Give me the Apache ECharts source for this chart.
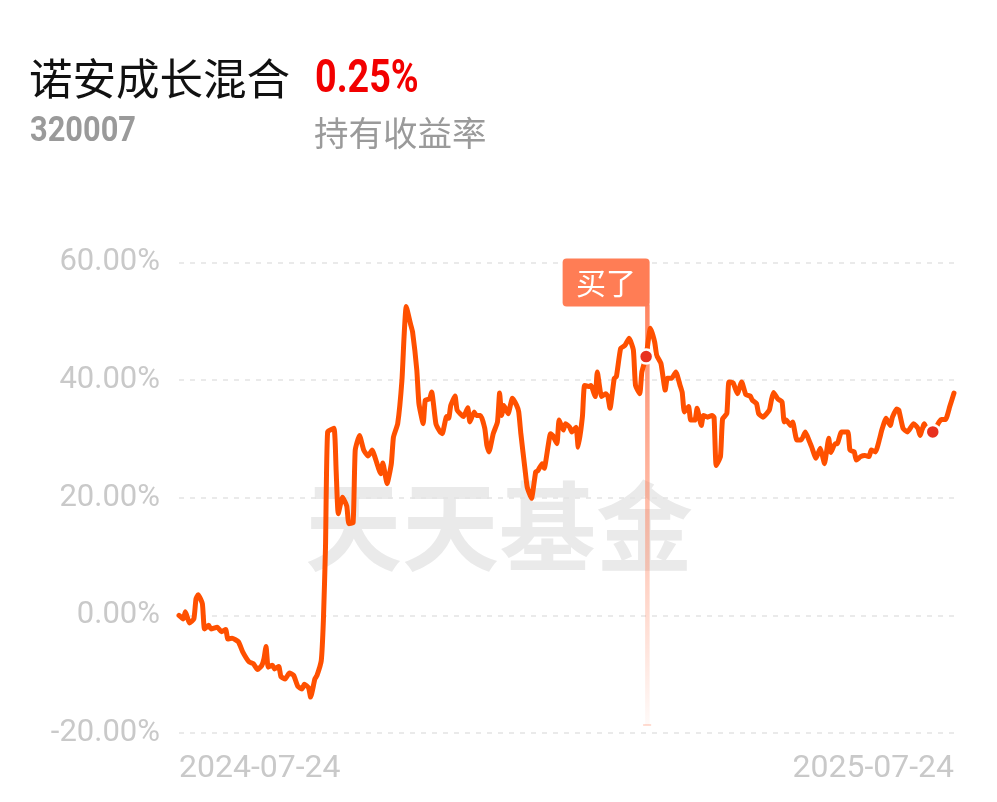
<!DOCTYPE html>
<html>
<head>
<meta charset="utf-8">
<script src="https://cdn.jsdelivr.net/npm/echarts@6/dist/echarts.min.js"></script>
<style>
html,body{margin:0;padding:0;background:#fff;}
#c{width:997px;height:802px;}
</style>
</head>
<body>
<div id="c"></div>
<script>
// ---- data ----
const fundName = '诺安成长混合';
const fundCode = '320007';
const holdReturn = '0.25%';
const holdReturnLabel = '持有收益率';
const watermark = '天天基金';
const xTickLabels = ['2024-07-24', '2025-07-24'];
const yTicks = [-20, 0, 20, 40, 60];
// day offsets from 2024-07-24
const days = [0,2,3,5,7,8,9,11,12,14,15,18,20,22,23,25,28,30,33,35,37,39,40,41,42,44,45,47,48,50,52,54,56,58,59,61,62,64,65,67,68,69,70,73,74,75,77,79,80,82,83,85,87,89,
91,92,95,96,98,100,101,103,105,106,107,109,110,112,113,115,116,118,119,121,123,124,126,127,128,130,131,134,136,137,139,140,142,144,145,146,148,150,151,152,153,155,157,159,160,161,163,164,166,168,169,171,172,175,176,178,179,181,182,184,185,187,188,190,191,193,194,196,197,199,201,202,203,205,206,208,210,212,214,215,217,218,220,
222,224,225,227,229,230,232,234,236,237,238,240,241,243,244,246,247,249,251,252,253,255,256,258,259,261,263,265,267,269,270,272,273,275,278,279,280,282,284,285,286,288,289,291,293,295,297,298,300,302,303,304,306,307,309,310,312,315,316,318,319,321,323,325,326,328,330,331,333,335,336,338,339,341,343,344,346,348,349,351,352,355,358,359,361,363,365];
// holding return (%)
const returns = [0.0,-0.6,0.6,-1.3,-0.6,2.8,3.5,2.0,-2.3,-1.7,-2.3,-2.0,-2.8,-2.4,-4.0,-3.9,-4.5,-6.2,-7.9,-8.2,-9.2,-8.5,-7.4,-5.3,-8.8,-8.5,-9.1,-8.7,-10.4,-10.8,-9.8,-10.2,-12.1,-12.5,-11.7,-12.3,-13.9,-10.8,-10.2,-7.7,-0.9,11.6,31.2,31.8,24.7,17.3,20.1,18.6,15.6,15.8,28.1,30.6,28.1,27.1,
28.1,27.2,24.1,25.9,22.4,25.8,30.3,32.6,40.0,47.4,52.5,49.6,48.2,41.7,36.0,32.6,36.6,36.8,38.0,32.6,31.2,30.9,33.8,33.5,35.7,37.3,34.9,33.8,35.3,32.9,34.6,34.0,34.0,31.8,28.9,27.8,30.9,32.9,37.8,34.0,35.7,34.3,36.9,35.7,34.6,30.9,24.7,21.8,19.9,24.4,24.6,25.8,25.0,30.9,30.6,29.2,33.2,31.5,32.6,32.0,31.2,32.0,28.6,33.8,39.1,38.9,39.1,37.2,41.4,37.2,37.7,37.2,35.2,40.3,40.6,45.4,45.9,47.1,45.1,39.1,37.7,41.4,44.0,
48.8,46.5,44.2,42.8,38.3,40.3,40.3,41.4,39.1,37.9,34.6,35.5,33.2,33.2,35.2,32.3,34.0,33.7,34.0,33.7,25.5,27.0,33.4,34.3,39.7,39.5,37.7,39.7,37.5,37.3,36.6,36.0,34.3,33.7,34.9,36.6,37.9,36.8,36.3,32.9,33.2,32.3,32.9,29.8,29.8,31.2,29.5,28.6,26.7,28.4,27.2,25.8,30.1,27.7,29.2,29.2,31.2,31.2,28.1,27.8,26.4,27.0,27.2,27.0,28.1,27.8,30.1,31.5,33.5,32.3,33.7,35.1,34.9,31.8,31.2,31.6,32.6,31.8,30.6,32.6,31.8,31.2,32.9,33.3,33.3,35.5,37.8];
const buyDay = 220;
const buyLabel = '买了';
const markDays = [220, 355];

// ---- build ----
const n = Math.min(days.length, returns.length);
const seriesData = [];
for (let i = 0; i < n; i++) seriesData.push([days[i], returns[i]]);
const valueAt = d => { const i = days.indexOf(d); return returns[i]; };

const chart = echarts.init(document.getElementById('c'), null, {renderer: 'canvas'});
const gridCol = '#e3e3e3';
const labelCol = '#c9c9c9';
const option = {
  animation: false,
  backgroundColor: '#fff',
  grid: {left: 179, right: 43, top: 262.5, bottom: 69, containLabel: false},
  xAxis: {
    type: 'value', min: days[0], max: days[days.length - 1], interval: 365,
    axisLine: {show: false}, axisTick: {show: false}, splitLine: {show: false},
    axisLabel: {
      color: labelCol, fontSize: 32, fontFamily: 'Roboto', margin: 20,
      alignMinLabel: 'left', alignMaxLabel: 'right',
      formatter: v => (v === days[0] ? xTickLabels[0] : xTickLabels[1])
    }
  },
  yAxis: {
    type: 'value', min: yTicks[0], max: yTicks[yTicks.length - 1], interval: 20,
    axisLine: {show: false}, axisTick: {show: false},
    splitLine: {show: true, lineStyle: {color: gridCol, width: 1.5, type: [5, 6]}},
    axisLabel: {color: labelCol, fontSize: 31, fontFamily: 'Roboto', margin: 19,
      formatter: v => v.toFixed(2) + '%'}
  },
  graphic: [
    {type: 'text', left: 305, top: 478, z: 0, silent: true,
      style: {text: watermark, fontSize: 97, fontWeight: 'bold', fontFamily: 'Noto Sans CJK SC', fill: '#eaeaea'}},
    {type: 'text', x: 29, y: 78, style: {text: fundName, fontSize: 43.5, fontFamily: 'Noto Sans CJK SC', fill: '#111', textVerticalAlign: 'middle'}},
    {type: 'text', x: 315, y: 80, scaleX: 0.82, style: {text: holdReturn, fontSize: 46, fontWeight: 'bold', fontFamily: 'Roboto', fill: '#f20000', textVerticalAlign: 'middle'}},
    {type: 'text', x: 30, y: 132, scaleX: 0.88, style: {text: fundCode, fontSize: 35, fontWeight: 'bold', fontFamily: 'Roboto', fill: '#9a9a9a', textVerticalAlign: 'middle'}},
    {type: 'text', x: 314, y: 133, style: {text: holdReturnLabel, fontSize: 34.5, fontFamily: 'Noto Sans CJK SC', fill: '#9a9a9a', textVerticalAlign: 'middle'}}
  ],
  series: [{
    type: 'line', data: seriesData, showSymbol: false, smooth: 0.15, z: 3,
    lineStyle: {color: '#ff5000', width: 5, join: 'round', cap: 'round'},
    markPoint: {
      symbol: 'circle', symbolSize: 14, silent: true, z: 5,
      itemStyle: {color: '#e8311f', borderColor: '#fff', borderWidth: 2.5},
      label: {show: false},
      data: markDays.map(d => ({coord: [d, valueAt(d)]}))
    }
  }]
};
chart.setOption(option);

// buy flag, positioned through the axes
const pBuy = chart.convertToPixel({xAxisIndex: 0, yAxisIndex: 0}, [buyDay, valueAt(buyDay)]);
const yTop = chart.convertToPixel({yAxisIndex: 0}, yTicks[yTicks.length - 1]);
const yBot = chart.convertToPixel({yAxisIndex: 0}, yTicks[0]);
const lx = pBuy[0] + 1;
const boxW = 87, boxH = 48;
const flagTop = yTop - 4;
chart.setOption({graphic: option.graphic.concat([
  {type: 'rect', z: 2, silent: true,
    shape: {x: lx - 2, y: flagTop + boxH - 2, width: 4.5, height: (yBot - 8) - (flagTop + boxH) + 2},
    style: {fill: new echarts.graphic.LinearGradient(0, 0, 0, 1, [
      {offset: 0, color: 'rgba(255,120,80,0.9)'},
      {offset: 1, color: 'rgba(255,120,80,0.04)'}])}},
  {type: 'rect', z: 2, silent: true,
    shape: {x: lx - 4, y: yBot - 9, width: 8, height: 2},
    style: {fill: 'rgba(255,120,80,0.25)'}},
  {type: 'rect', z: 6, silent: true,
    shape: {x: lx + 2.5 - boxW, y: flagTop, width: boxW, height: boxH, r: 4},
    style: {fill: '#ff7d55'}},
  {type: 'text', z: 7, silent: true, x: lx + 2.5 - boxW / 2, y: flagTop + boxH / 2,
    style: {text: buyLabel, fontSize: 30, fontFamily: 'Noto Sans CJK SC', fill: '#fff', align: 'center', verticalAlign: 'middle'}}
])});
</script>
</body>
</html>
